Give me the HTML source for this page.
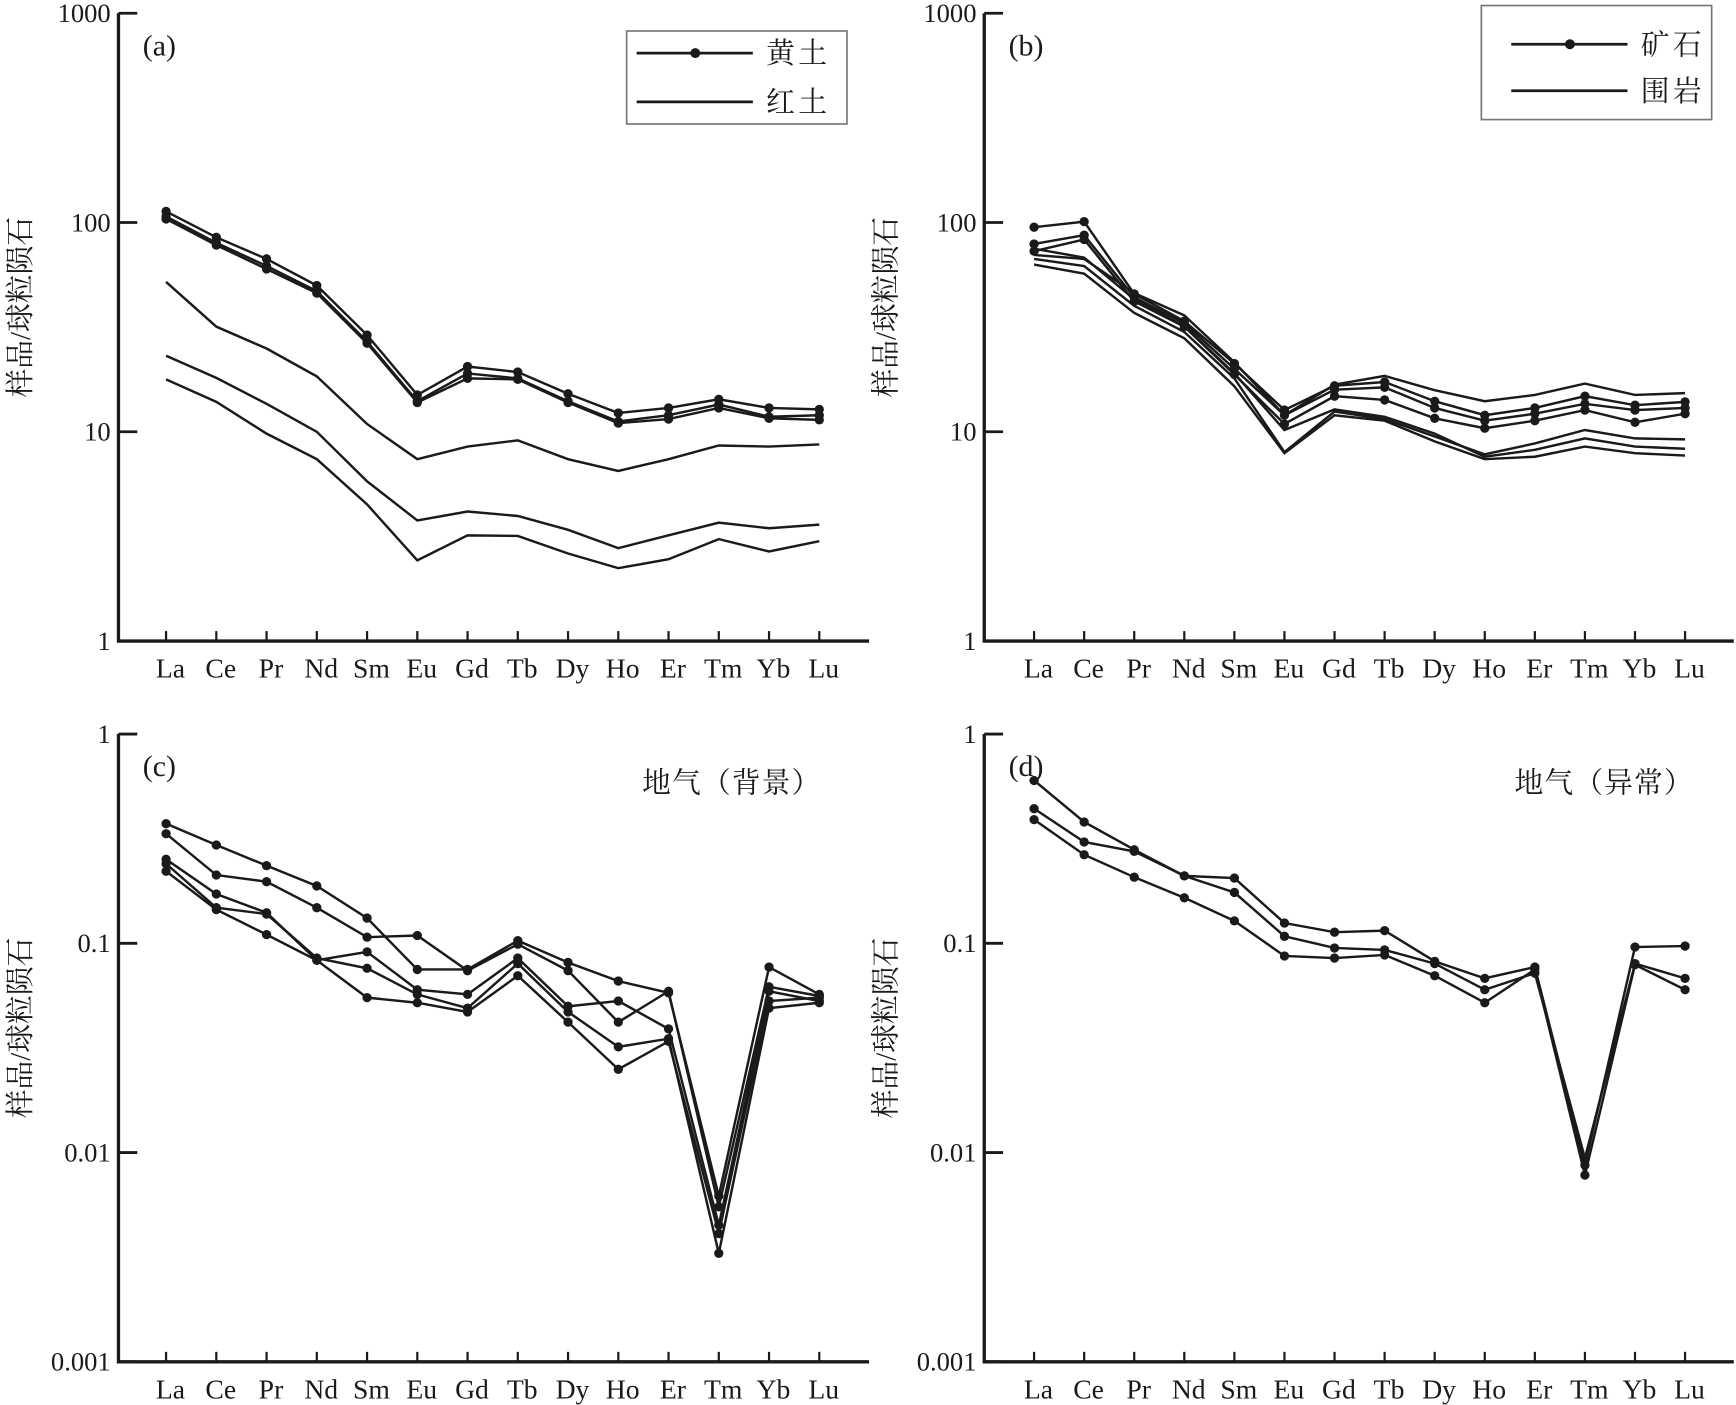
<!DOCTYPE html>
<html><head><meta charset="utf-8"><style>
html,body{margin:0;padding:0;background:#fff}
svg{display:block}
text{font-family:"Liberation Serif","Noto Serif CJK SC",serif;fill:#1a1a1a}
</style></head><body>
<svg id="chart" width="1736" height="1405" viewBox="0 0 1568 1269" preserveAspectRatio="none" xmlns="http://www.w3.org/2000/svg"></svg>
<script>
const categories=["La","Ce","Pr","Nd","Sm","Eu","Gd","Tb","Dy","Ho","Er","Tm","Yb","Lu"];
const loessSeries=[
[113,85,67,50,29,15,20.5,19.3,15.2,12.3,13,14.3,13,12.8],
[107,80,62,47,27,14,19,18,14,11.2,12,13.5,11.8,12],
[104,78,60,46,26.5,13.8,18,17.8,13.8,11,11.5,13,11.6,11.4]];
const redSoilSeries=[
[52,31.8,25,18.4,10.9,7.4,8.5,9.1,7.4,6.5,7.4,8.6,8.5,8.7],
[23.1,18.1,13.6,10,5.8,3.77,4.16,3.96,3.4,2.78,3.2,3.68,3.46,3.6],
[17.8,13.9,9.8,7.4,4.5,2.43,3.2,3.18,2.62,2.23,2.46,3.07,2.68,3.0]];
const oreSeries=[
[95,101,45.6,33.8,21.2,12.7,16.6,17.3,14,12,13,14.8,13.4,13.9],
[79,87,44,33,20,12,15.9,16.3,13,11.3,12.2,13.6,12.7,13],
[73,83,42,31.8,18.8,10.9,14.8,14.2,11.6,10.4,11.3,12.7,11.1,12.2]];
const wallRockSeries=[
[70,67,46,36,21.5,12,16.8,18.5,15.8,14,15,17,15,15.3],
[67,62,40,30,18,8.0,12.5,11.5,9.5,7.8,8.8,10.2,9.3,9.2],
[63,57,37,28,16.5,7.9,12,11.3,9,7.4,7.6,8.5,7.9,7.7],
[75,68,43,32,19,10.2,12.8,11.8,9.8,7.6,8.2,9.3,8.5,8.3]];
const bgGasSeries=[
[.373,.295,.235,.188,.132,.075,.075,.103,.081,.066,.058,.0062,.077,.057],
[.334,.212,.197,.148,.107,.109,.074,.099,.074,.042,.059,.0055,.062,.056],
[.252,.172,.14,.083,.091,.06,.057,.085,.05,.053,.039,.0045,.059,.053],
[.24,.148,.138,.085,.076,.057,.049,.08,.047,.032,.035,.0033,.049,.052],
[.221,.145,.11,.083,.055,.052,.047,.07,.042,.025,.034,.0041,.053,.055]];
const anomGasSeries=[
[.60,.38,.28,.21,.205,.125,.113,.115,.082,.068,.077,.0087,.096,.097],
[.44,.305,.275,.21,.175,.108,.095,.093,.08,.06,.072,.0094,.08,.068],
[.39,.265,.207,.165,.128,.087,.085,.088,.07,.052,.075,.0078,.079,.06]];
const topTicks=["1","10","100","1000"];
const botTicks=["0.001","0.01","0.1","1"];

const NS="http://www.w3.org/2000/svg";
const svg=document.getElementById('chart');
function mk(tag,attrs,parent){const e=document.createElementNS(NS,tag);for(const k in attrs)e.setAttribute(k,attrs[k]);(parent||svg).appendChild(e);return e;}

function panel(o){
  const g=mk('g',{});
  
  
  const x0=o.ax, xEnd=o.axEnd, yBot=o.yBot, dec=189, minExp=o.minExp;
  const xs=i=>o.x1+i*(o.xN-o.x1)/(categories.length-1);
  const ys=v=>yBot-(Math.log10(v)-minExp)*dec;
  const ax=mk('path',{d:`M${x0},${yBot-3*dec} V${yBot} H${xEnd}`,stroke:'#1a1a1a','stroke-width':3,fill:'none'},g);
  
  
  o.ticks.forEach((t,k)=>{
    const y=yBot-k*dec;
    const tl=mk('line',{x1:x0,x2:x0+17,y1:y,y2:y,stroke:'#1a1a1a','stroke-width':2.5},g);
    
    
    const tx=mk('text',{x:x0-7,y:y+8,'text-anchor':'end','font-size':24},g);
    tx.textContent=t;
    
    
  });
  categories.forEach((c,i)=>{
    const x=xs(i);
    const tl=mk('line',{x1:x,x2:x,y1:yBot,y2:yBot-9,stroke:'#1a1a1a','stroke-width':2},g);
    
    
    const tx=mk('text',{x:x+4,y:yBot+33,'text-anchor':'middle','font-size':25},g);
    tx.textContent=c;
    
    
  });
  const yt=mk('text',{x:0,y:0,'text-anchor':'middle','font-size':26,transform:`translate(${x0-80},${yBot-3*dec/2-18}) rotate(-90)`},g);
  yt.textContent='样品/球粒陨石';
  
  
  const lab=mk('text',{x:x0+22,y:yBot-3*dec+38,'font-size':27},g);
  lab.textContent=o.label;
  
  
  o.series.forEach(s=>{
    s.data.forEach((vals)=>{
      const line=mk('polyline',{points:vals.map((v,i)=>xs(i)+','+ys(v)).join(' '),fill:'none',stroke:'#1a1a1a','stroke-width':2.2},g);
      
      
      if(s.dots) vals.forEach((v,i)=>{
        const d=mk('circle',{cx:xs(i),cy:ys(v),r:4.2,fill:'#1a1a1a'},g);
        
        
      });
    });
  });
  return g;
}
panel({name:'panel-a',ax:107,axEnd:785,yBot:579,minExp:0,x1:150,xN:740,ticks:topTicks,label:'(a)',
 series:[{name:'loess',data:loessSeries,dots:true},{name:'red-soil',data:redSoilSeries,dots:false}]});
panel({name:'panel-b',ax:889,axEnd:1566,yBot:579,minExp:0,x1:934,xN:1522,ticks:topTicks,label:'(b)',
 series:[{name:'ore',data:oreSeries,dots:true},{name:'wall-rock',data:wallRockSeries,dots:false}]});
panel({name:'panel-c',ax:107,axEnd:785,yBot:1230,minExp:-3,x1:150,xN:740,ticks:botTicks,label:'(c)',
 series:[{name:'background-soil-gas',data:bgGasSeries,dots:true}]});
panel({name:'panel-d',ax:889,axEnd:1566,yBot:1230,minExp:-3,x1:934,xN:1522,ticks:botTicks,label:'(d)',
 series:[{name:'anomaly-soil-gas',data:anomGasSeries,dots:true}]});

function legend(x,y,w,h,t1,t2,name,r1,r2,off){
  const g=mk('g',{});
  
  
  mk('rect',{x:x,y:y,width:w,height:h,fill:'#fff',stroke:'#777','stroke-width':1.5},g);
  mk('line',{x1:x+off,x2:x+off+105,y1:r1,y2:r1,stroke:'#1a1a1a','stroke-width':2.5},g);
  mk('circle',{cx:x+off+53,cy:r1,r:4.5,fill:'#1a1a1a'},g);
  mk('line',{x1:x+off,x2:x+off+105,y1:r2,y2:r2,stroke:'#1a1a1a','stroke-width':2.5},g);
  const a=mk('text',{x:x+off+117,y:r1+9,'font-size':26,'letter-spacing':3},g);a.textContent=t1;
  
  
  const b=mk('text',{x:x+off+117,y:r2+9,'font-size':26,'letter-spacing':3},g);b.textContent=t2;
  
  
}
legend(566,28,199,84,'黄土','红土','legend-a',48,92,9);
legend(1338,5,208,103,'矿石','围岩','legend-b',40,82,27);
const n1=mk('text',{x:580,y:716,'font-size':26,'letter-spacing':1});n1.textContent='地气（背景）';


const n2=mk('text',{x:1368,y:716,'font-size':26,'letter-spacing':1});n2.textContent='地气（异常）';


</script>
</body></html>
